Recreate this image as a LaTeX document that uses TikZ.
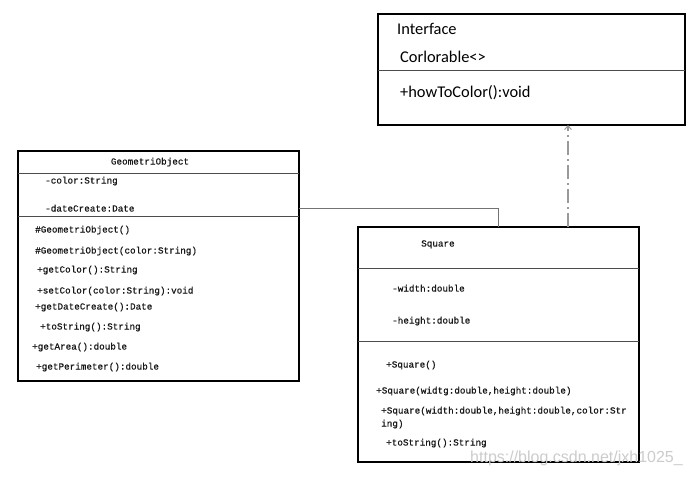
\documentclass[tikz,border=0pt]{standalone}
\usepackage{fontspec}
\newfontfamily\monof[FakeBold=0.7]{Liberation Mono}
\newfontfamily\calf{Carlito}
\newfontfamily\wmf{Liberation Sans}
\usetikzlibrary{arrows.meta}
\begin{document}
\begin{tikzpicture}[x=1pt,y=-1pt,
  box/.style={draw=black,line width=2pt,inner sep=0pt,outer sep=0pt},
  divline/.style={draw=black!70,line width=0.9pt},
  mt/.style={anchor=west,inner sep=0pt,text=black!90,font=\monof\fontsize{9.3}{11}\selectfont,text height=7pt,text depth=2pt},
  ct/.style={anchor=west,inner sep=0pt,text=black,font=\calf\fontsize{16.4}{19}\selectfont,text height=11pt,text depth=3.5pt},
  assoc/.style={draw=black!55,line width=0.9pt},
  realiz/.style={draw=black!40,line width=1.2pt,dash pattern=on 14pt off 4pt on 2pt off 4pt,-{Straight Barb[length=4pt,width=7pt,line width=0.9pt]}}
]
\useasboundingbox (0,0) rectangle (692,477);
\fill[white] (0,0) rectangle (692,477);

% Interface box
\node[box,minimum width=307pt,minimum height=111pt] (iface) at (531.5,69.5) {};
\draw[divline] (iface.west |- 0,70) -- (iface.east |- 0,70);
\node[ct] (i1) at (397,31) {Interface};
\node[ct] (i2) at (400,59) {Corlorable<>};
\node[ct] (i3) at (400,94) {+howToColor():void};

% GeometriObject box
\node[box,minimum width=281pt,minimum height=230pt] (geo) at (158.5,266) {};
\draw[divline] (geo.west |- 0,173) -- (geo.east |- 0,173);
\draw[divline] (geo.west |- 0,216) -- (geo.east |- 0,216);
\node[mt,anchor=center] (g0) at (150,162) {GeometriObject};
\node[mt] (g1) at (45,181) {-color:String};
\node[mt] (g2) at (45,209) {-dateCreate:Date};
\node[mt] (g3) at (35,230) {\#GeometriObject()};
\node[mt] (g4) at (35,251) {\#GeometriObject(color:String)};
\node[mt] (g5) at (37,270) {+getColor():String};
\node[mt] (g6) at (37,291) {+setColor(color:String):void};
\node[mt] (g7) at (35,307) {+getDateCreate():Date};
\node[mt] (g8) at (40,327) {+toString():String};
\node[mt] (g9) at (32,347) {+getArea():double};
\node[mt] (g10) at (36,367) {+getPerimeter():double};

% Square box
\node[box,minimum width=281pt,minimum height=235pt] (sq) at (498.5,344.5) {};
\draw[divline] (sq.west |- 0,268) -- (sq.east |- 0,268);
\draw[divline] (sq.west |- 0,341) -- (sq.east |- 0,341);
\node[mt] (s0) at (421,244) {Square};
\node[mt] (s1) at (392,289) {-width:double};
\node[mt] (s2) at (392,321) {-height:double};
\node[mt] (s3) at (386,365) {+Square()};
\node[mt] (s4) at (376,391) {+Square(widtg:double,height:double)};
\node[mt] (s5) at (381,411) {+Square(width:double,height:double,color:Str};
\node[mt] (s6) at (381,424) {ing)};
\node[mt] (s7) at (386,443) {+toString():String};

% connectors
\coordinate (ascend) at (498,227);
\draw[assoc] (geo.east |- 0,208) -| (ascend);
\draw[realiz] (sq.north -| 568,0) -- (iface.south -| 568,0);

% watermark
\node[anchor=west,inner sep=0pt,text=black!20,font=\wmf\fontsize{16}{19}\selectfont] (wm) at (470,458) {https://blog.csdn.net/jxh1025\_};
\end{tikzpicture}
\end{document}
